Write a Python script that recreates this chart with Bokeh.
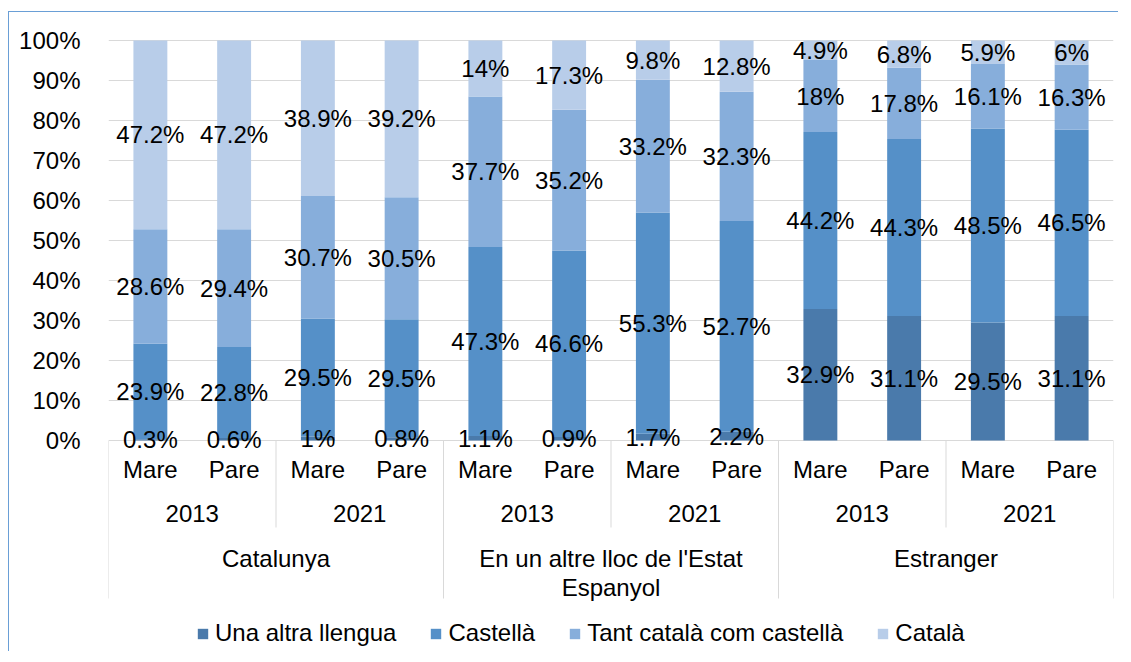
from bokeh.plotting import figure
from bokeh.models import (FactorRange, Range1d, ColumnDataSource, FixedTicker,
                          NumeralTickFormatter, Legend, LegendItem)
from bokeh.core.properties import value
from bokeh.embed import file_html
from bokeh.resources import INLINE

# ---------------- data ----------------
origins = ["Catalunya", "En un altre lloc de l'Estat Espanyol", "Estranger"]
origin_labels = ["Catalunya", "En un altre lloc de l'Estat\nEspanyol", "Estranger"]
years = ["2013", "2021"]
parents = ["Mare", "Pare"]
series = ["Una altra llengua", "Castellà", "Tant català com castellà", "Català"]
colors = ["#4a7aab", "#5590c8", "#87aedb", "#b8cde9"]

altra = [0.3, 0.6, 1, 0.8, 1.1, 0.9, 1.7, 2.2, 32.9, 31.1, 29.5, 31.1]
castella = [23.9, 22.8, 29.5, 29.5, 47.3, 46.6, 55.3, 52.7, 44.2, 44.3, 48.5, 46.5]
tant = [28.6, 29.4, 30.7, 30.5, 37.7, 35.2, 33.2, 32.3, 18, 17.8, 16.1, 16.3]
catala = [47.2, 47.2, 38.9, 39.2, 14, 17.3, 9.8, 12.8, 4.9, 6.8, 5.9, 6]
y_ticks = [0, 0.1, 0.2, 0.3, 0.4, 0.5, 0.6, 0.7, 0.8, 0.9, 1.0]

FONT = "Liberation Sans"
FS = "24px"
GRID = "#d9d9d9"

factors = [(o, y, p) for o in origins for y in years for p in parents]
vals = [altra, castella, tant, catala]
keys = ["s0", "s1", "s2", "s3"]
totals = [sum(v[i] for v in vals) for i in range(len(factors))]

data = {"x": factors}
for k, v in zip(keys, vals):
    data[k] = [v[i] / totals[i] for i in range(len(factors))]
src = ColumnDataSource(data)

p = figure(x_range=FactorRange(*factors, factor_padding=0, group_padding=0,
                               subgroup_padding=0, range_padding=0),
           y_range=Range1d(-0.53, 1.025),
           width=1110, height=640, output_backend="svg", toolbar_location=None,
           min_border_left=99, min_border_right=6, min_border_top=18,
           min_border_bottom=0)
p.styles = {"border-left": "1px solid #6a9fd6", "border-top": "1px solid #6a9fd6",
            "margin-top": "11px", "margin-left": "8px"}
p.outline_line_color = None
p.background_fill_color = "white"
p.border_fill_color = "white"

renderers = p.vbar_stack(keys, x="x", width=0.405, color=colors, line_color=None,
                         source=src)

# data labels
lx, ly, lt = [], [], []
for i, f in enumerate(factors):
    base = 0.0
    for k, v in zip(keys, vals):
        h = data[k][i]
        lx.append(f)
        ly.append(base + h / 2)
        lt.append(f"{v[i]:g}%")
        base += h
p.text(x=lx, y=ly, text=lt, text_align="center", text_baseline="middle",
       text_font=value(FONT), text_font_size=FS, text_color="#000000")

# y axis
p.yaxis.ticker = FixedTicker(ticks=y_ticks)
p.yaxis.formatter = NumeralTickFormatter(format="0%")
p.yaxis.axis_line_color = None
p.yaxis.major_tick_line_color = None
p.yaxis.minor_tick_line_color = None
p.yaxis.major_label_standoff = 22
p.yaxis.major_label_text_font = FONT
p.yaxis.major_label_text_font_size = FS
p.yaxis.major_label_text_color = "#000000"
p.ygrid.ticker = FixedTicker(ticks=y_ticks)
p.ygrid.grid_line_color = GRID
p.xgrid.visible = False
p.xaxis.visible = False

# category axis table (separators)
sx, sy1 = [], []
for o in origins:
    sx.append((o, "2013", "Mare", -0.5)); sy1.append(-0.395)
    sx.append((o, "2021", "Mare", -0.5)); sy1.append(-0.2175)
sx.append((origins[-1], "2021", "Pare", 0.5)); sy1.append(-0.395)
p.segment(x0=sx, x1=sx, y0=[0] * len(sx), y1=sy1, line_color=GRID, line_width=1)

# level labels
p.text(x=factors, y=[-0.0725] * len(factors), text=[f[2] for f in factors],
       text_align="center", text_baseline="middle", text_font=value(FONT),
       text_font_size=FS, text_color="#000000")
yf = [(o, y) for o in origins for y in years]
p.text(x=yf, y=[-0.1825] * len(yf), text=[f[1] for f in yf],
       text_align="center", text_baseline="middle", text_font=value(FONT),
       text_font_size=FS, text_color="#000000")
p.text(x=origins, y=[-0.26] * len(origins), text=origin_labels,
       text_align="center", text_baseline="top", text_font=value(FONT),
       text_font_size=FS, text_color="#000000", text_line_height=1.1)

legend = Legend(items=[LegendItem(label=s, renderers=[r]) for s, r in zip(series, renderers)],
                orientation="horizontal", location=(88, 5), glyph_width=13,
                glyph_height=13, label_standoff=6, spacing=33, padding=0, margin=0,
                border_line_color=None, background_fill_alpha=0,
                label_text_font=FONT, label_text_font_size=FS,
                label_text_color="#000000")
p.add_layout(legend, "center")

open("out.html", "w").write(file_html(p, INLINE))
